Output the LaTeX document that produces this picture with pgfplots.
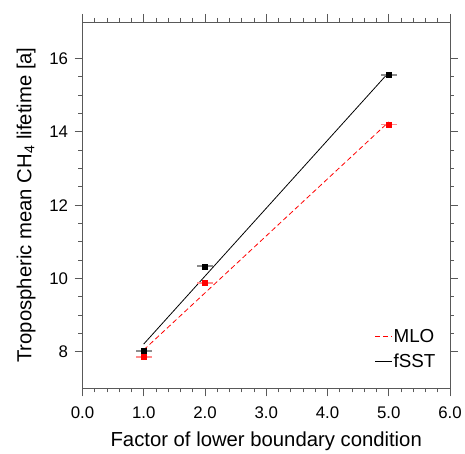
\documentclass[border=0pt]{standalone}
\usepackage{pgfplots}
\pgfplotsset{compat=1.18}
\usepackage{fontspec}
\setmainfont{Liberation Sans}
\definecolor{mlored}{RGB}{255,0,0}
\begin{document}
\begin{tikzpicture}
\begin{axis}[
  name=ax,
  scale only axis,
  width=370bp, height=369bp,
  xmin=0, xmax=6, ymin=7, ymax=17,
  xtick={0,1,2,3,4,5,6},
  ytick={8,10,12,14,16},
  minor x tick num=4,
  minor y tick num=3,
  tick align=outside,
  xtick pos=both, ytick pos=both,
  xticklabel pos=lower, yticklabel pos=left,
  major tick length=8bp, minor tick length=4bp,
  axis line style={black!65, line width=0.7pt},
  every tick/.style={black!65, line width=0.7pt},
  /pgf/number format/assume math mode=true,
  x tick label style={/pgf/number format/fixed, /pgf/number format/fixed zerofill, /pgf/number format/precision=1, yshift=-7bp},
  y tick label style={/pgf/number format/fixed, /pgf/number format/precision=0, xshift=-3bp},
  tick label style={font=\fontsize{17}{19}\selectfont},
  label style={font=\fontsize{20.5}{24}\selectfont},
  xlabel style={yshift=-6bp},
  ylabel style={yshift=7bp},
  xlabel={Factor of lower boundary condition},
  ylabel={Tropospheric mean CH\textsubscript{4} lifetime [a]},
  legend style={draw=none, fill=none, at={(axis cs:4.77,7.5)}, anchor=south west,
    font=\fontsize{19}{22}\selectfont, row sep=8bp, inner sep=0pt,
    nodes={inner sep=1bp}},
  legend cell align=left,
]
\addlegendimage{draw=mlored, line width=0.8pt, dash pattern=on 5bp off 3bp, legend image code/.code={\draw[draw=mlored, line width=0.9pt, dash pattern=on 5bp off 3bp] (0bp,0bp) -- (17bp,0bp);}}
\addlegendentry{MLO}
\addlegendimage{draw=black, line width=0.8pt, legend image code/.code={\draw[draw=black, line width=0.8pt] (0bp,0bp) -- (17bp,0bp);}}
\addlegendentry{fSST}
% fitted lines
\addplot[forget plot, mlored, line width=0.8pt, dash pattern=on 5bp off 3bp] coordinates {(1,8.05) (5,14.27)};
\addplot[forget plot, black, line width=0.8pt] coordinates {(1,8.21) (5,15.62)};
% data with error bars
\addplot[forget plot, only marks, mark=square*, mark size=2.6bp, color=mlored,
  error bars/.cd, x dir=both, x explicit, error mark=none,
  error bar style={red!45, line width=1.8pt}]
  coordinates {(1,7.86) +- (0.13,0) (2,9.88) +- (0.13,0) (5,14.20) +- (0.13,0)};
\addplot[forget plot, only marks, mark=square*, mark size=2.6bp, color=black,
  error bars/.cd, x dir=both, x explicit, error mark=none,
  error bar style={black!45, line width=1.8pt}]
  coordinates {(1,8.02) +- (0.13,0) (2,10.33) +- (0.13,0) (5,15.56) +- (0.13,0)};
\end{axis}
\path (ax.south west) ++(-83bp,-64bp);
\path (ax.north east) ++(12bp,22bp);
\end{tikzpicture}
\end{document}
